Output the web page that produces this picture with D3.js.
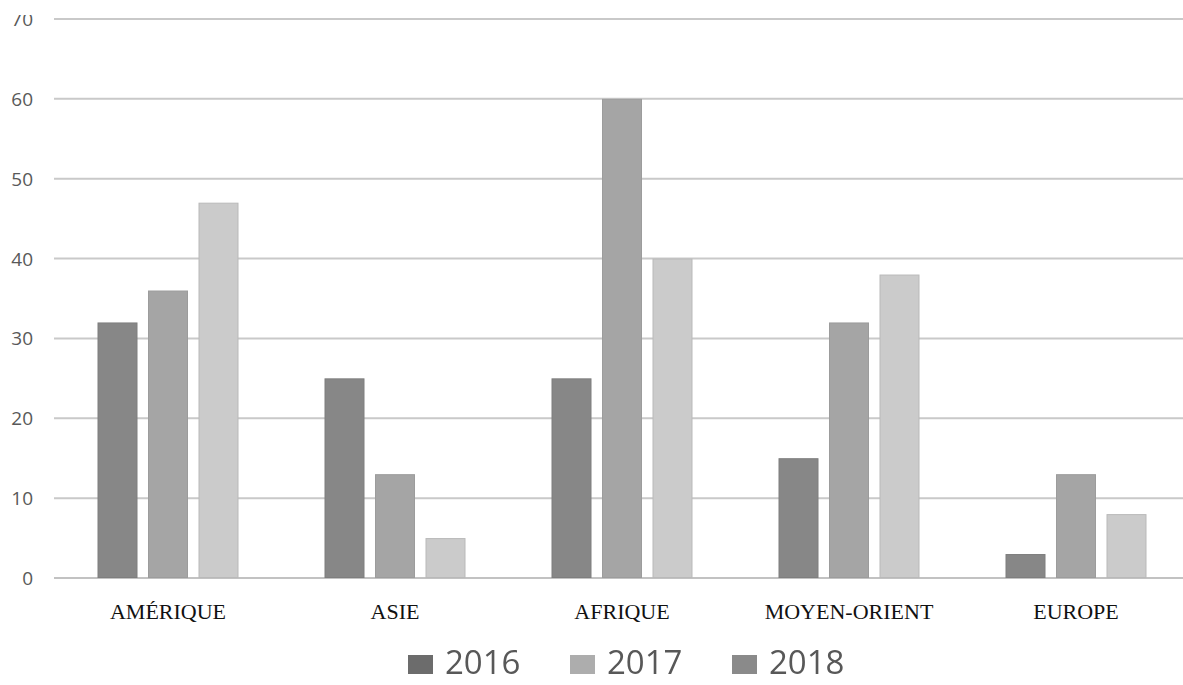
<!DOCTYPE html>
<html>
<head>
<meta charset="utf-8">
<script src="https://cdn.jsdelivr.net/npm/d3@7/dist/d3.min.js"></script>
<style>
  html, body { margin: 0; padding: 0; background: #fff; }
  svg { display: block; }
</style>
</head>
<body>
<svg id="chart" width="1183" height="685"></svg>
<script>
const categories = ["AMÉRIQUE", "ASIE", "AFRIQUE", "MOYEN-ORIENT", "EUROPE"];
const seriesNames = ["2016", "2017", "2018"];
const values2016 = [32, 25, 25, 15, 3];
const values2017 = [36, 13, 60, 32, 13];
const values2018 = [47, 5, 40, 38, 8];
const yTicks = [0, 10, 20, 30, 40, 50, 60, 70];

const seriesValues = [values2016, values2017, values2018];
const barFill = ["#878787", "#a5a5a5", "#cbcbcb"];
const barStroke = ["#7e7e7e", "#9c9c9c", "#b9b9b9"];
const legendFill = ["#6c6c6c", "#adadad", "#8a8a8a"];

const W = 1183, H = 685;
const svg = d3.select("#chart");

const x0 = d3.scaleBand().domain(categories).range([54.5, 1189.5])
  .paddingInner(86 / 227).paddingOuter(43 / 227);
const x1 = d3.scaleBand().domain(seriesNames).range([0, x0.bandwidth()])
  .paddingInner(10.5 / 50.5).paddingOuter(0);
const y = d3.scaleLinear().domain([0, 70]).range([578, 19]);

const defs = svg.append("defs");
defs.append("clipPath").attr("id", "ylabclip")
  .append("rect").attr("x", 0).attr("y", 15).attr("width", 60).attr("height", 600);
defs.append("filter").attr("id", "soft")
  .append("feGaussianBlur").attr("stdDeviation", 0.7);

// gridlines
svg.append("g").selectAll("line").data(yTicks).join("line")
  .attr("x1", 54).attr("x2", W)
  .attr("y1", d => y(d)).attr("y2", d => y(d))
  .attr("stroke", d => d === 0 ? "#c2c2c2" : "#c9c9c9")
  .attr("stroke-width", 2);

// y axis labels (top label cropped as in reference)
const yAxis = d3.axisLeft(y).tickValues(yTicks).tickSize(0).tickPadding(0);
const clipG = svg.append("g").attr("clip-path", "url(#ylabclip)");
const yg = clipG.append("g").attr("transform", "translate(33,0)").call(yAxis);
yg.select(".domain").remove();
yg.selectAll("text")
  .attr("font-family", "'Open Sans', sans-serif")
  .attr("font-size", 19)
  .attr("fill", "#595959")
  .attr("dy", "0.34em");

// bars
const groups = svg.append("g").selectAll("g").data(categories).join("g")
  .attr("transform", d => `translate(${x0(d)},0)`);
groups.selectAll("rect")
  .data((c, ci) => seriesNames.map((s, si) => ({ s, si, v: seriesValues[si][ci] })))
  .join("rect")
  .attr("x", d => x1(d.s) + 0.5)
  .attr("y", d => y(d.v) + 0.5)
  .attr("width", x1.bandwidth() - 1)
  .attr("height", d => y(0) - y(d.v) - 1)
  .attr("fill", d => barFill[d.si])
  .attr("stroke", d => barStroke[d.si])
  .attr("stroke-width", 1);

// category labels
svg.append("g").selectAll("text").data(categories).join("text")
  .attr("x", d => x0(d) + x0.bandwidth() / 2)
  .attr("y", 619)
  .attr("text-anchor", "middle")
  .attr("font-family", "'Liberation Serif', 'Times New Roman', serif")
  .attr("font-size", 22)
  .attr("fill", "#111")
  .text(d => d);

// legend
const legendX = d3.scalePoint().domain(seriesNames).range([408, 732]);
const lg = svg.append("g").attr("filter", "url(#soft)");
const items = lg.selectAll("g").data(seriesNames).join("g")
  .attr("transform", d => `translate(${legendX(d)},0)`);
items.append("rect")
  .attr("x", 0).attr("y", 655).attr("width", 25).attr("height", 19)
  .attr("fill", (d, i) => legendFill[i]);
items.append("text")
  .attr("x", 37).attr("y", 674)
  .attr("font-family", "'Open Sans', sans-serif")
  .attr("font-size", 33)
  .attr("fill", "#585858")
  .text(d => d);
</script>
</body>
</html>
